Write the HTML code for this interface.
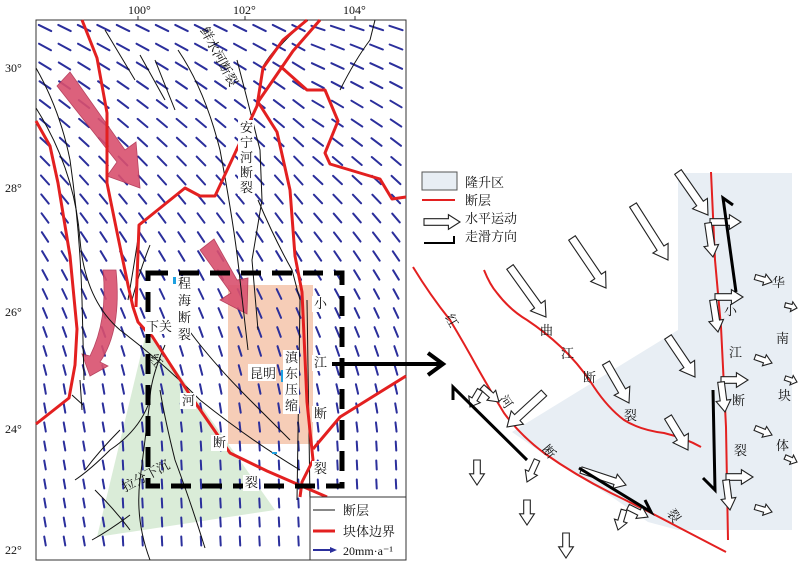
<!DOCTYPE html>
<html><head><meta charset="utf-8"><style>
body{margin:0;background:#fff;width:805px;height:570px;overflow:hidden}
svg{display:block}
text{font-family:"Liberation Serif","Noto Serif CJK SC",serif;fill:#111}
.c{font-family:"Liberation Sans","Noto Sans CJK SC",sans-serif;font-size:13px}
</style></head><body>
<svg id="s" width="805" height="570" viewBox="0 0 805 570" xmlns="http://www.w3.org/2000/svg">
<rect x="0" y="0" width="805" height="570" fill="#fff"/>
<rect x="36" y="20" width="370" height="540" fill="#fff" stroke="#333" stroke-width="1"/>
<polygon points="147,329 97,537 275,510" fill="#d4e9d1" opacity="0.85"/>
<rect x="228" y="285" width="85" height="159" fill="#f4c4aa" opacity="0.85"/>
<g id="vel"></g>
<g fill="#d9506e" stroke="#b03050" stroke-width="0.8" opacity="0.9">
<polygon points="57,86 70,72 125,150 136,142 140,188 107,176 117,162"/>
<polygon points="200,250 214,239 237,280 248,278 247,314 220,300 231,293"/>
<path d="M103,270 L116,270 Q122,330 100,362 L108,366 L90,376 L82,354 L90,356 Q108,320 103,270Z"/>
</g>
<g fill="none" stroke="#111" stroke-width="1">
<path d="M36,68 Q60,110 70,160 Q80,230 82,300 L84,380"/>
<path d="M36,108 Q75,170 80,240 Q85,300 120,330 Q160,360 200,400 Q250,440 300,470"/>
<path d="M105,30 L135,80 M140,55 L165,100 M155,60 L175,110"/>
<path d="M178,50 Q205,90 220,150 Q235,230 240,280 L248,350"/>
<path d="M237,60 Q250,110 260,150 L262,200 L252,260 L258,330"/>
<path d="M258,200 Q275,240 292,270 L300,300 L297,500"/>
<path d="M307,300 L310,500"/>
<path d="M185,325 Q210,360 250,400 Q270,420 290,440"/>
<path d="M165,345 Q150,380 150,400 Q140,430 110,450 Q90,470 75,480"/>
<path d="M160,390 Q165,420 175,460 Q190,500 205,548"/>
<path d="M150,400 Q145,440 140,480 Q135,520 150,560"/>
<path d="M120,430 Q100,450 85,470 M95,490 Q115,510 130,530 M92,540 Q110,530 130,515"/>
<path d="M140,225 Q135,260 128,300 M150,245 Q140,270 132,300"/>
<path d="M340,90 Q355,60 370,40 L375,20"/>
<path d="M80,380 L82,410 M72,395 L83,405"/>
<path d="M262,68 Q275,45 305,22 M266,65 Q280,42 308,20"/>
</g>
<g fill="none" stroke="#e32020" stroke-width="3" stroke-linejoin="round">
<polyline points="36,121 50,146 58,183 70,256 77,329 75,365 69,398 36,424"/>
<polyline points="82,20 97,58 107,113 107,183 118,237 128,285 133,307 138,322 147,332 152,336 190,395 230,453 267,471 327,497"/>
<polyline points="136,307 139,225 185,188 200,196 215,196 257,106 263,68 283,40 307,20"/>
<polyline points="320,20 293,51 258,102 277,132 290,190 295,256 302,292 307,402 313,460 302,482 300,497"/>
<polyline points="280,66 307,90 325,90 338,121 325,153 330,164 380,179 392,199 406,197"/>
<polyline points="313,449 340,417 406,376"/>
</g>
<g fill="#1ea0e0"><rect x="173" y="277" width="3" height="7"/><rect x="281" y="370" width="3" height="12"/><rect x="288" y="410" width="4" height="3"/><rect x="272" y="452" width="5" height="2"/><rect x="146" y="320" width="5" height="3"/></g>
<rect x="148" y="273" width="194" height="213" fill="none" stroke="#000" stroke-width="5" stroke-dasharray="20,11"/>
<g font-size="12"><text x="128" y="14">100°</text><text x="233" y="14">102°</text><text x="343" y="14">104°</text>
<text x="5" y="72">30°</text><text x="5" y="192">28°</text><text x="5" y="316">26°</text><text x="5" y="433">24°</text><text x="5" y="554">22°</text></g>
<g stroke="#333"><line x1="138" y1="16" x2="138" y2="20"/><line x1="245" y1="16" x2="245" y2="20"/><line x1="355" y1="16" x2="355" y2="20"/></g>
<g fill="#fff">
<rect x="176" y="276" width="15" height="66"/><rect x="145" y="319" width="28" height="15"/><rect x="238" y="120" width="16" height="76"/>
<rect x="248" y="364" width="28" height="17"/><rect x="283" y="350" width="16" height="64"/>
<rect x="312" y="296" width="16" height="16"/><rect x="312" y="355" width="16" height="16"/><rect x="312" y="406" width="16" height="16"/><rect x="312" y="461" width="16" height="16"/>
<rect x="180" y="393" width="16" height="16"/><rect x="211" y="435" width="16" height="16"/><rect x="243" y="475" width="16" height="16"/>
</g>
<g class="c" font-size="12">
<text transform="translate(200,30) rotate(62)">鲜水河断裂</text>
<text x="240" y="132">安</text><text x="240" y="147">宁</text><text x="240" y="162">河</text><text x="240" y="177">断</text><text x="240" y="192">裂</text>
<text x="178" y="288">程</text><text x="178" y="305">海</text><text x="178" y="322">断</text><text x="178" y="339">裂</text>
<text x="146" y="331">下关</text>
<text x="150" y="365" transform="rotate(50,156,360)">红</text><text x="182" y="405">河</text><text x="213" y="447">断</text><text x="245" y="487">裂</text>
<text transform="translate(125,492) rotate(-28)">拉分下沉</text>
<text x="250" y="378">昆明</text>
<text x="285" y="362">滇</text><text x="285" y="378">东</text><text x="285" y="394">压</text><text x="285" y="410">缩</text>
<text x="314" y="308">小</text><text x="314" y="367">江</text><text x="314" y="418">断</text><text x="314" y="473">裂</text>
</g>
<rect x="310" y="497" width="96" height="63" fill="#fff" stroke="#333"/>
<line x1="313" y1="510" x2="335" y2="510" stroke="#111"/>
<line x1="313" y1="531" x2="335" y2="531" stroke="#e32020" stroke-width="3"/>
<line x1="313" y1="550" x2="330" y2="550" stroke="#2b2f9c" stroke-width="2"/><polygon points="330,547 337,550 330,553" fill="#2b2f9c"/>
<g class="c"><text x="343" y="515">断层</text><text x="343" y="536">块体边界</text></g>
<text x="343" y="555" font-size="12">20mm·a⁻¹</text>
<line x1="332" y1="364" x2="440" y2="364" stroke="#000" stroke-width="4"/>
<polyline points="428,353 443,364 428,375" fill="none" stroke="#000" stroke-width="4"/>
<polygon points="678,173 792,173 792,530 678,530 648,522 612,497 545,455 512,432 678,330" fill="#e8eef4"/>
<g fill="none" stroke="#e32020" stroke-width="2">
<path d="M413,267 Q430,295 450,320 Q465,345 477,367 Q490,390 504,413 Q520,435 544,453 Q575,475 611,493 Q650,512 678,527 L726,552"/>
<path d="M484,270 Q490,285 497,293 Q510,310 527,320 Q545,332 561,347 Q580,365 594,387 Q608,408 624,420 Q640,430 664,433 Q685,438 701,447"/>
<path d="M711,172 L715,260 L721,327 L726,427 L728,540"/>
</g>
<g id="ha" fill="#fff" stroke="#222" stroke-width="1.1"></g>
<g stroke="#000" stroke-width="3" fill="none">
<polyline points="527,460 453,387 453,400"/>
<polyline points="579,468 651,512 645,500"/>
<polyline points="736,292 723,198 733,205"/>
<polyline points="713,390 715,490 703,478"/>
</g>
<rect x="422" y="172" width="35" height="18" fill="#e8eef4" stroke="#555"/>
<line x1="422" y1="200" x2="455" y2="200" stroke="#e32020" stroke-width="2"/>
<polyline points="424,243 454,243 454,236" stroke="#000" stroke-width="2" fill="none"/>
<g class="c"><text x="465" y="187">隆升区</text><text x="465" y="205">断层</text><text x="465" y="223">水平运动</text><text x="465" y="241">走滑方向</text>
<text x="446" y="325" transform="rotate(60,452,320)">红</text><text x="500" y="406" transform="rotate(55,506,401)">河</text><text x="543" y="456" transform="rotate(50,549,451)">断</text><text x="668" y="520" transform="rotate(55,674,515)">裂</text>
<text x="540" y="335">曲</text><text x="561" y="358">江</text><text x="583" y="382">断</text><text x="624" y="420">裂</text>
<text x="724" y="315">小</text><text x="729" y="357">江</text><text x="732" y="405">断</text><text x="734" y="455">裂</text>
<text x="772" y="287">华</text><text x="776" y="343">南</text><text x="778" y="400">块</text><text x="776" y="450">体</text></g>
</svg>
<script>
var g=document.getElementById("vel"),h="";
for(var y=28;y<556;y+=19){for(var x=45;x<402;x+=19.5){
 if(x>305&&y>492)continue;
 var t=(y-20)/430; if(t>1)t=1;
 var a=25+t*62-(x>300?8*(1-t):0);
 if(y>380&&x<110)a=80;
 var L=14-5*t, r=a*Math.PI/180, dx=Math.cos(r)*L/2, dy=Math.sin(r)*L/2;
 h+='<line x1="'+(x-dx)+'" y1="'+(y-dy)+'" x2="'+(x+dx)+'" y2="'+(y+dy)+'"/>';
}}
g.innerHTML='<g stroke="#2b2f9c" stroke-width="2" stroke-linecap="round">'+h+'</g>';
var A=[[678,172,708,215,1],[633,205,668,260,1],[572,238,606,288,1],[510,267,546,317,1],[668,337,695,377,1],[606,363,629,403,1],[668,417,688,450,1],[544,393,507,427,1],
[755,277,772,282,.6],[785,305,797,308,.5],[755,357,772,363,.6],[785,378,797,382,.5],[755,428,772,435,.6],[785,457,797,462,.5],[755,507,772,512,.6],
[710,222,741,222,.8],[708,223,713,257,.8],[715,297,743,297,.8],[713,300,718,332,.8],[721,380,748,380,.8],[721,382,725,412,.8],[726,477,753,477,.8],[726,480,730,510,.8],
[477,460,477,485,.8],[527,500,527,525,.8],[566,533,566,558,.8],[537,460,527,482,.7],[581,470,626,485,.8],[628,507,648,517,.7],[624,510,618,530,.7],[482,387,499,402,.7],[480,390,470,407,.7],[444,222,455,222,0]];
var s="";
A.forEach(function(p){var x1=p[0],y1=p[1],x2=p[2],y2=p[3],k=p[4];
 if(k==0){x1=424;x2=460;k=.8;}
 var L=Math.hypot(x2-x1,y2-y1),ux=(x2-x1)/L,uy=(y2-y1)/L,nx=-uy,ny=ux,w=3.5*k+0.5,W=8*k+1,H=Math.min(12*k+2,L*0.45);
 var bx=x2-ux*H,by=y2-uy*H;
 var pts=[[x1+nx*w,y1+ny*w],[bx+nx*w,by+ny*w],[bx+nx*W,by+ny*W],[x2,y2],[bx-nx*W,by-ny*W],[bx-nx*w,by-ny*w],[x1-nx*w,y1-ny*w]];
 s+='<polygon points="'+pts.map(function(q){return q[0].toFixed(1)+","+q[1].toFixed(1)}).join(" ")+'"/>';
});
document.getElementById("ha").innerHTML=s;
</script>
</body></html>
